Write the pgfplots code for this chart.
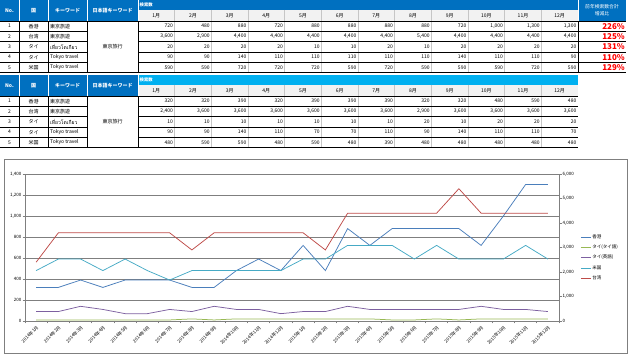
\documentclass[border=0pt]{standalone}
\usepackage{pgfplots}
\pgfplotsset{compat=1.18}
\usepackage{pgfplotstable}
\usepackage{fontspec}
\setmainfont{Noto Sans CJK JP}
\newfontfamily\thaifont[Script=Thai]{Loma}
\definecolor{hdrblue}{HTML}{0070C0}
\definecolor{hdrcyan}{HTML}{00B0F0}
\definecolor{monthbg}{HTML}{F2F2F2}
\definecolor{gridgray}{HTML}{7F7F7F}
\definecolor{hkc}{HTML}{4A7EBB}
\definecolor{thc}{HTML}{98B954}
\definecolor{enc}{HTML}{7D60A0}
\definecolor{usc}{HTML}{46AAC5}
\definecolor{twc}{HTML}{BE4B48}
\pgfkeys{/pgf/number format/assume math mode=true}
\newcommand\tf{\fontsize{5}{6}\selectfont}
\newcommand\tfs{\fontsize{4.3}{5}\selectfont}
\newcommand\af{\fontsize{4.5}{5}\selectfont}

% i: month index (0 = 2014-01 ... 23 = 2015-12)
\pgfplotstableread{
i hk th en us tw
0 320 10 90 480 2400
1 320 10 90 590 3600
2 390 10 140 590 3600
3 320 10 110 480 3600
4 390 10 70 590 3600
5 390 10 70 480 3600
6 390 10 110 390 3600
7 320 20 90 480 2900
8 320 10 140 480 3600
9 480 20 110 480 3600
10 590 20 110 480 3600
11 480 20 70 480 3600
12 720 20 90 590 3600
13 480 20 90 590 2900
14 880 20 140 720 4400
15 720 20 110 720 4400
16 880 10 110 720 4400
17 880 10 110 590 4400
18 880 20 110 720 4400
19 880 10 110 590 5400
20 720 20 140 590 4400
21 1000 20 110 590 4400
22 1300 20 110 720 4400
23 1300 20 90 590 4400
}\data

% #1 y offset, #2 colour of the 検索数 header, #3 row offset in \data
\newcommand\drawtable[3]{%
\begin{scope}[shift={(0,#1)}]
 \fill[hdrblue] (0,0) rectangle (138,21);
 \fill[#2] (138,0) rectangle (578,10);
 \fill[monthbg] (138,10) rectangle (578,21);
 \foreach \xx in {19,48,87,138} \draw[white,line width=0.6] (\xx,0) -- (\xx,21);
 \foreach \i in {1,...,11} \draw[gray!45,line width=0.4] ({138+\i*36.667},10) -- ({138+\i*36.667},72.7);
 \foreach \i in {1,...,12} \node[font=\tf,inner sep=0pt] at ({138+(\i-0.5)*36.667},15.7) {\i 月};
 \node[font=\tf\bfseries,text=white,inner sep=0pt] at (9.5,10.5) {No.};
 \node[font=\tf\bfseries,text=white,inner sep=0pt] at (33.5,10.5) {国};
 \node[font=\tf\bfseries,text=white,inner sep=0pt] at (67.5,10.5) {キーワード};
 \node[font=\tf\bfseries,text=white,inner sep=0pt] at (112.5,10.5) {日本語キーワード};
 \node[font=\tfs\bfseries,text=white,anchor=west,inner sep=0pt] at (139.5,4.8) {検索数};
 \foreach \r in {0,...,5} {
   \draw[black,line width=0.6] (0,{21+\r*10.333}) -- (87,{21+\r*10.333});
   \draw[black,line width=0.6] (138,{21+\r*10.333}) -- (578,{21+\r*10.333});
 }
 \draw[black,line width=0.6] (87,21) -- (138,21);
 \draw[black,line width=0.6] (87,72.7) -- (138,72.7);
 \foreach \xx in {19,48,87,138} \draw[black,line width=0.6] (\xx,21) -- (\xx,72.7);
 \node[font=\tf,inner sep=0pt] at (112.5,47) {東京旅行};
 \foreach \col/\cn/\kw [count=\r] in {hk/香港/東京旅遊, tw/台湾/東京旅遊, th/タイ/{\thaifont เที่ยวโตเกียว}, en/タイ/Tokyo travel, us/米国/Tokyo travel} {
   \node[font=\tf,inner sep=0pt] at (9.5,{21+(\r-0.5)*10.333}) {\r};
   \node[font=\tf,inner sep=0pt] at (33.5,{21+(\r-0.5)*10.333}) {\cn};
   \node[font=\tf,inner sep=0pt,anchor=west] at (50,{21+(\r-0.5)*10.333}) {\kw};
   \foreach \c in {0,...,11} {
     \pgfmathtruncatemacro\ri{\c+#3}
     \edef\getit{\noexpand\pgfplotstablegetelem{\ri}{\col}\noexpand\of\noexpand\data}\getit
     \node[font=\tf,inner sep=0pt,anchor=east] at ({138+(\c+1)*36.667-1.5},{21+(\r-0.5)*10.333}) {\pgfmathprintnumber[1000 sep={,}]{\pgfplotsretval}};
   }
 }
\end{scope}}

\begin{document}
\begin{tikzpicture}[x=1pt,y=1pt]
\path[use as bounding box] (0,0) rectangle (632,358);
\begin{scope}[shift={(0,358)},yscale=-1]
 \drawtable{0}{hdrblue}{12}
 % 増減比 column
 \fill[hdrblue] (578,0) rectangle (626,21);
 \draw[white,line width=0.6] (578,0) -- (578,21);
 \node[font=\fontsize{4.8}{6}\selectfont,text=white,align=center,inner sep=0pt] at (602,10.5) {前年検索数合計\\[1pt]増減比};
 \draw[black,line width=0.6] (578,21) -- (578,72.7);
 \foreach \r in {0,...,5} \draw[black,line width=0.6] (578,{21+\r*10.333}) -- (626,{21+\r*10.333});
 \foreach \p [count=\r] in {226,125,131,110,129}
   \node[font=\fontsize{8}{9}\selectfont\bfseries,text=red,anchor=east,inner sep=0pt] at (625,{21+(\r-0.5)*10.333}) {\p\%};
 \drawtable{75}{hdrcyan}{0}
 % chart frame
 \draw[gridgray,line width=0.6] (4,159) rectangle (627,353);
\end{scope}

\begin{axis}[
  name=main,
  at={(25pt,37pt)}, anchor=south west, scale only axis,
  width=534pt, height=147pt,
  xmin=-0.5, xmax=23.5, ymin=0, ymax=1400,
  ytick={0,200,...,1400},
  xtick={0,...,23},
  xticklabels={2014年1月,2014年2月,2014年3月,2014年4月,2014年5月,2014年6月,2014年7月,2014年8月,2014年9月,2014年10月,2014年11月,2014年12月,2015年1月,2015年2月,2015年3月,2015年4月,2015年5月,2015年6月,2015年7月,2015年8月,2015年9月,2015年10月,2015年11月,2015年12月},
  minor xtick={-0.5,0.5,...,23.5},
  major x tick style={draw=none},
  axis x line*=bottom, axis y line*=left,
  ymajorgrids, grid style={draw=gridgray,line width=0.75pt},
  axis line style={draw=gridgray,line width=0.75pt},
  tick style={draw=gridgray,line width=0.6pt},
  tick align=outside, major tick length=2.5pt, minor tick length=2.5pt,
  yticklabel style={font=\af,/pgf/number format/1000 sep={,},inner sep=1pt},
  xticklabel style={font=\af,rotate=45,anchor=north east,inner sep=1pt},
  /pgf/number format/assume math mode=true,
]
\addplot[hkc,line width=0.75pt] table[x=i,y=hk]{\data};
\addplot[thc,line width=0.75pt] table[x=i,y=th]{\data};
\addplot[enc,line width=0.75pt] table[x=i,y=en]{\data};
\addplot[usc,line width=0.75pt] table[x=i,y=us]{\data};
\end{axis}
\begin{axis}[
  at={(25pt,37pt)}, anchor=south west, scale only axis,
  width=534pt, height=147pt,
  xmin=-0.5, xmax=23.5, ymin=0, ymax=6000,
  ytick={0,1000,...,6000},
  hide x axis, axis y line*=right,
  axis line style={draw=gridgray,line width=0.75pt},
  tick style={draw=gridgray,line width=0.6pt},
  tick align=outside, major tick length=2.5pt,
  yticklabel style={font=\af,/pgf/number format/1000 sep={,},inner sep=1pt},
  /pgf/number format/assume math mode=true,
  legend style={at={(1.04,0.595)},anchor=north west,draw=none,fill=none,font=\af,row sep=3pt,inner sep=0pt,nodes={inner sep=1pt}},
  legend cell align=left,
  legend image code/.code={\draw[#1] (0pt,0pt) -- (10pt,0pt);},
]
\addlegendimage{hkc,line width=0.75pt}\addlegendentry{香港}
\addlegendimage{thc,line width=0.75pt}\addlegendentry{タイ(タイ語)}
\addlegendimage{enc,line width=0.75pt}\addlegendentry{タイ(英語)}
\addlegendimage{usc,line width=0.75pt}\addlegendentry{米国}
\addplot[twc,line width=0.75pt] table[x=i,y=tw]{\data};
\addlegendentry{台湾}
\end{axis}
\end{tikzpicture}
\end{document}
